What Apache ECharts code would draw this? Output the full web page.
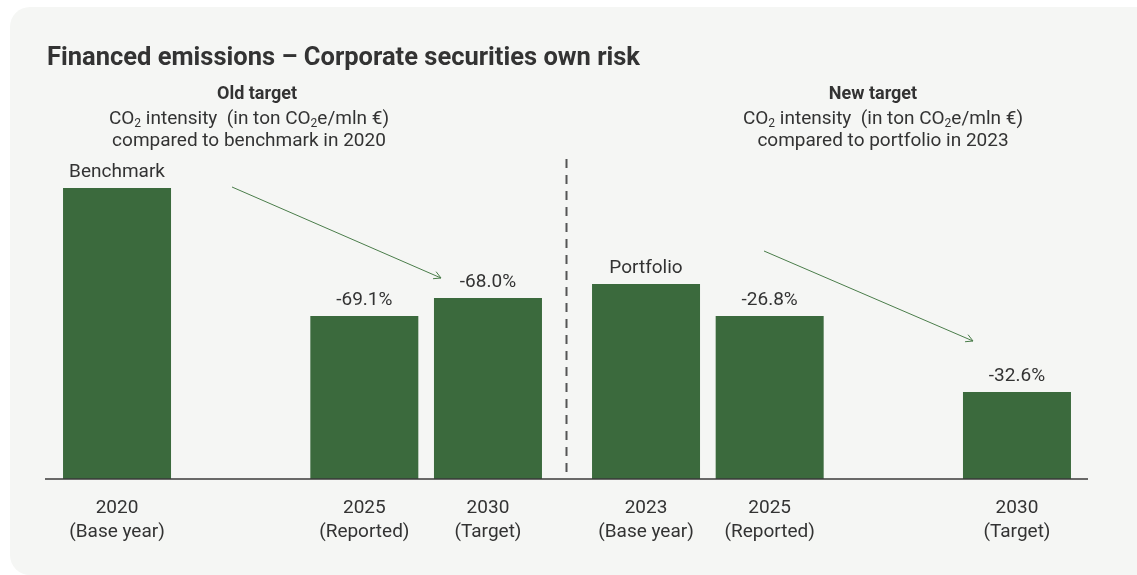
<!DOCTYPE html>
<html>
<head>
<meta charset="utf-8">
<title>Financed emissions</title>
<script src="https://cdn.jsdelivr.net/npm/echarts@6/dist/echarts.min.js"></script>
<style>
  html, body { margin: 0; padding: 0; background: #ffffff; }
  #main { width: 1137px; height: 575px; }
</style>
</head>
<body>
<div id="main"></div>
<script>
// data (bar heights as index, benchmark = 100)
var oldCategories = ['2020\n(Base year)', '', '2025\n(Reported)', '2030\n(Target)'];
var oldValues = [100, '-', 56.0, 62.2];
var oldLabels = ['Benchmark', '', '-69.1%', '-68.0%'];

var newCategories = ['2023\n(Base year)', '2025\n(Reported)', '', '2030\n(Target)'];
var newValues = [67.0, 56.0, '-', 29.9];
var newLabels = ['Portfolio', '-26.8%', '', '-32.6%'];

var barColor = '#3b6a3d';
var textColor = '#333333';
var font = 'Roboto, "Noto Sans", sans-serif';

var myChart = echarts.init(document.getElementById('main'));

// arrow: thin line with an open chevron at the end
function arrow(x1, y1, x2, y2) {
    var a = Math.atan2(y2 - y1, x2 - x1), len = 8, sp = 0.5;
    return {
        type: 'group',
        children: [
            { type: 'line', shape: { x1: x1, y1: y1, x2: x2, y2: y2 },
              style: { stroke: '#4a7d4a', lineWidth: 1 } },
            { type: 'polyline',
              shape: { points: [
                  [x2 - len * Math.cos(a - sp), y2 - len * Math.sin(a - sp)],
                  [x2, y2],
                  [x2 - len * Math.cos(a + sp), y2 - len * Math.sin(a + sp)]
              ] },
              style: { stroke: '#4a7d4a', lineWidth: 1, fill: null } }
        ]
    };
}

// header block: bold title line and two normal lines below
function header(xTitle, xText, title, line3) {
    var rich = {
        n: { fontFamily: font, fontSize: 19, lineHeight: 22, fill: textColor },
        s: { fontFamily: font, fontSize: 12, lineHeight: 14, verticalAlign: 'bottom', fill: textColor }
    };
    return [
        { type: 'text', x: xTitle, y: 94,
          style: { text: title, align: 'center', verticalAlign: 'middle', fill: textColor,
                   font: 'bold 18px ' + font } },
        { type: 'text', x: xText, y: 108,
          style: {
              text: '{n|CO}{s|2}{n| intensity  (in ton CO}{s|2}{n|e/mln €)}\n{n|' + line3 + '}',
              align: 'center', verticalAlign: 'top', fill: textColor, rich: rich
          } }
    ];
}

var labelStyle = {
    show: true,
    position: 'top',
    distance: 6,
    color: textColor,
    fontFamily: font,
    fontSize: 19
};

var xAxisStyle = {
    type: 'category',
    axisLine: { show: false },
    axisTick: { show: false },
    axisLabel: { color: textColor, fontFamily: font, fontSize: 19, lineHeight: 24, margin: 17, interval: 0 }
};

var option = {
    backgroundColor: '#ffffff',
    animation: false,
    title: {
        text: 'Financed emissions – Corporate securities own risk',
        left: 42,
        top: 41,
        textStyle: { color: textColor, fontFamily: font, fontSize: 25.5, fontWeight: 'bold' }
    },
    grid: [
        { left: 55.2, width: 494.6, top: 188, bottom: 96 },
        { left: 584.2, width: 494.6, top: 188, bottom: 96 }
    ],
    xAxis: [
        Object.assign({ gridIndex: 0, data: oldCategories }, xAxisStyle),
        Object.assign({ gridIndex: 1, data: newCategories }, xAxisStyle)
    ],
    yAxis: [
        { gridIndex: 0, type: 'value', min: 0, max: 100, show: false },
        { gridIndex: 1, type: 'value', min: 0, max: 100, show: false }
    ],
    series: [
        {
            name: 'Old target', type: 'bar', xAxisIndex: 0, yAxisIndex: 0,
            barWidth: 108, itemStyle: { color: barColor },
            data: oldValues,
            label: Object.assign({ formatter: function (p) { return oldLabels[p.dataIndex]; } }, labelStyle)
        },
        {
            name: 'New target', type: 'bar', xAxisIndex: 1, yAxisIndex: 1,
            barWidth: 108, itemStyle: { color: barColor },
            data: newValues,
            label: Object.assign({ formatter: function (p) { return newLabels[p.dataIndex]; } }, labelStyle)
        }
    ],
    graphic: [
        { type: 'rect', z: -10, silent: true,
          shape: { x: 10, y: 7, width: 1160, height: 568, r: [20, 20, 20, 20] },
          style: { fill: '#f5f6f4' } },
        { type: 'line', z: 10, shape: { x1: 45, y1: 479, x2: 1088, y2: 479 },
          style: { stroke: '#3a3a3a', lineWidth: 1.5 } },
        { type: 'line', shape: { x1: 566.5, y1: 159, x2: 566.5, y2: 476 },
          style: { stroke: '#555555', lineWidth: 2, lineDash: [9, 7] } },
        arrow(232, 187, 441, 278),
        arrow(764, 251, 973, 341)
    ].concat(
        header(257, 249, 'Old target', 'compared to benchmark in 2020'),
        header(873, 883, 'New target', 'compared to portfolio in 2023')
    )
};

myChart.setOption(option);
</script>
</body>
</html>
